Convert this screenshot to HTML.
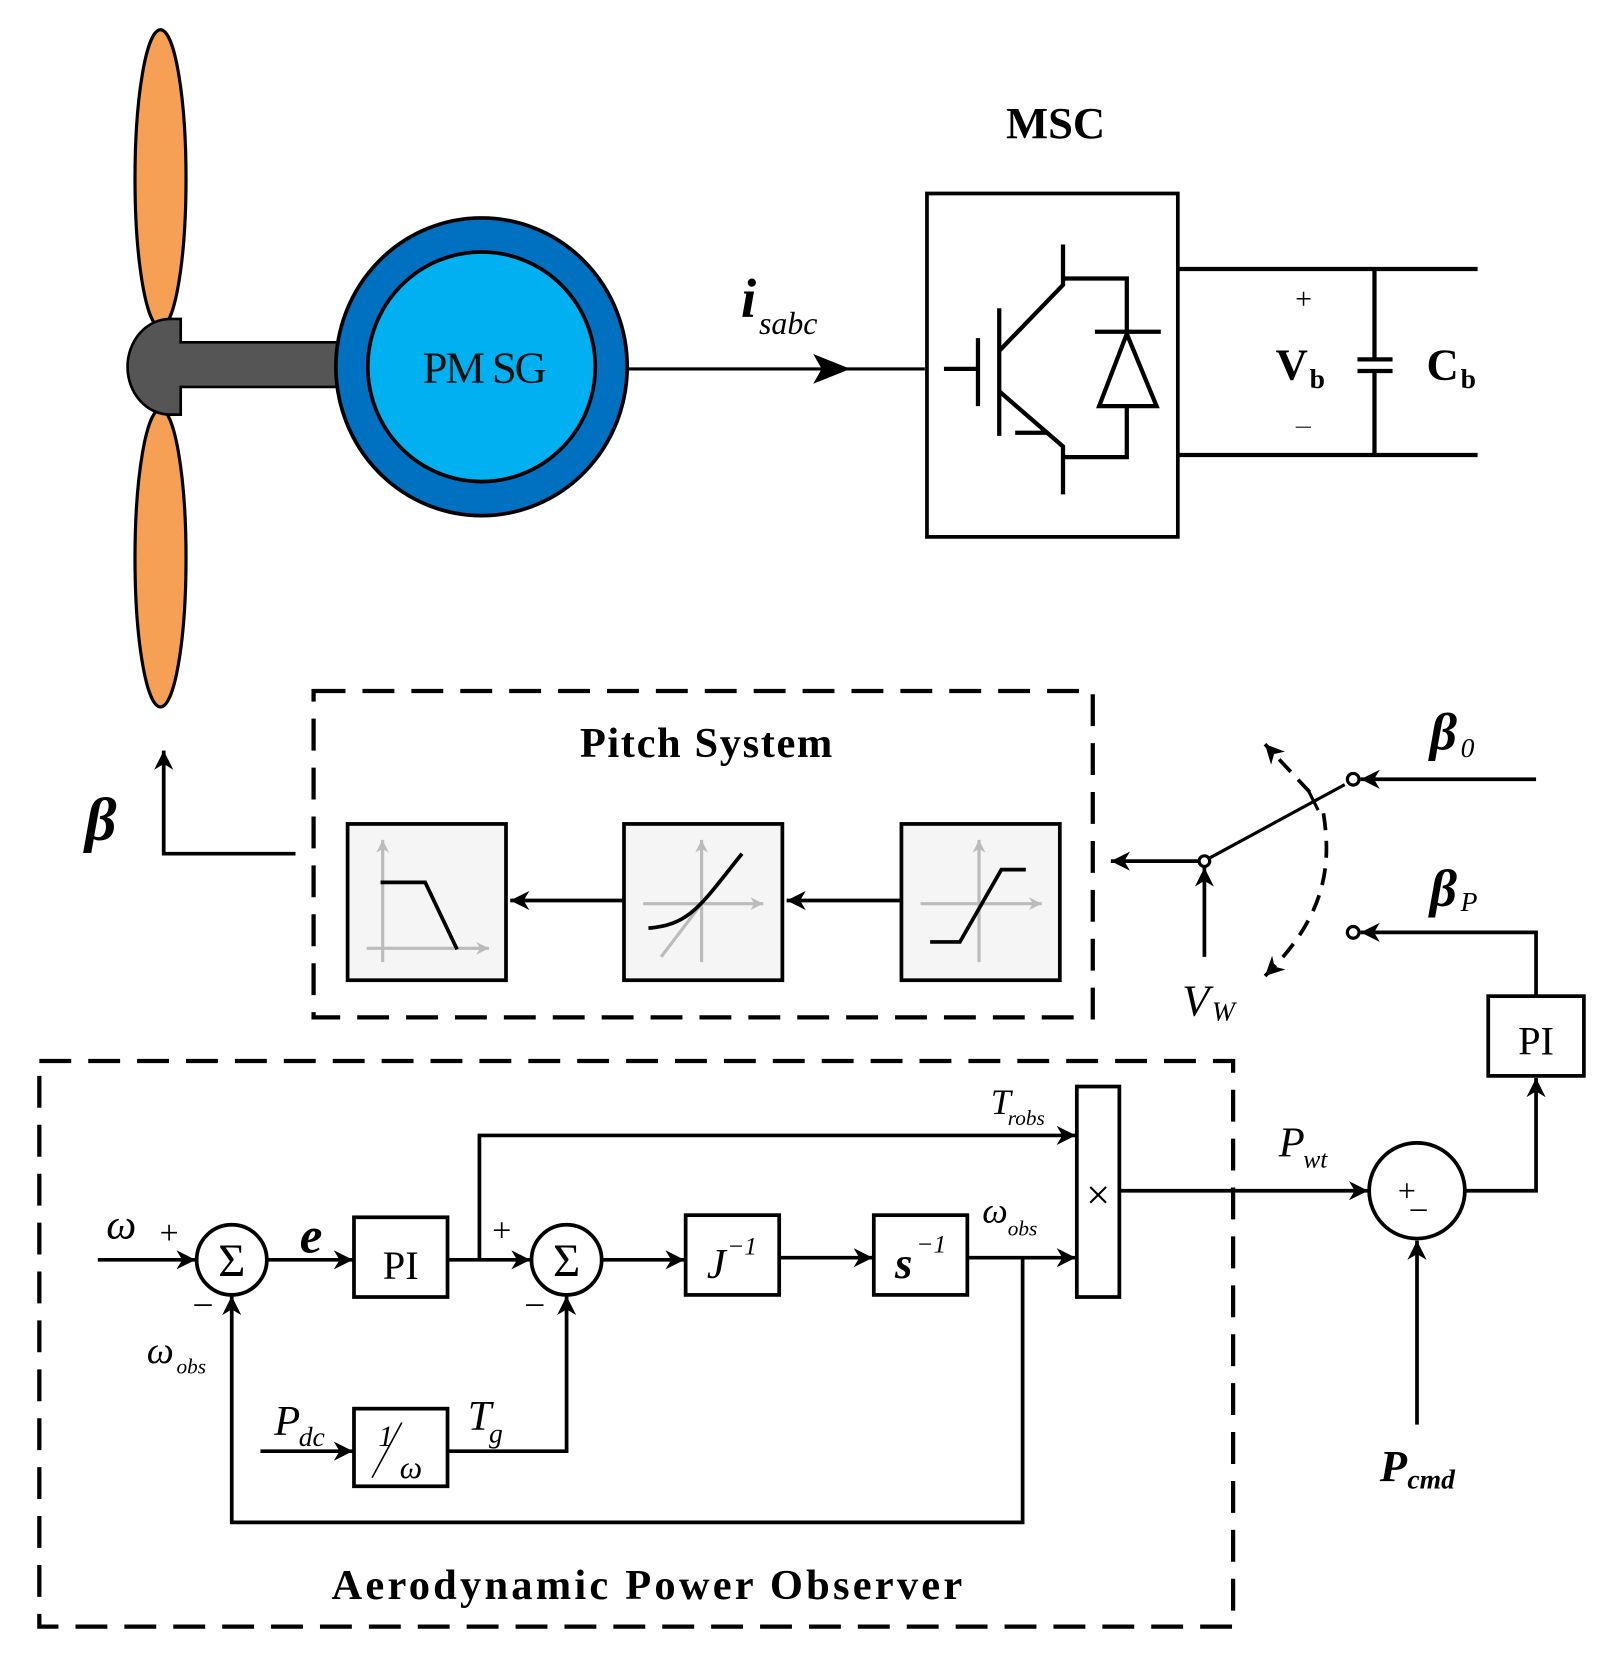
<!DOCTYPE html>
<html><head><meta charset="utf-8"><style>html,body{margin:0;padding:0;background:#fff}svg{display:block}</style></head>
<body>
<svg width="1611" height="1667" viewBox="0 0 1515.5 1568" preserveAspectRatio="none" xmlns="http://www.w3.org/2000/svg" font-family="Liberation Serif, serif">
<defs>
<marker id="a" viewBox="0 0 10 10" refX="10" refY="5" markerWidth="22" markerHeight="18" markerUnits="userSpaceOnUse" orient="auto"><path d="M0,0 L10,5 L0,10 L3,5 z" fill="#000"/></marker>
<marker id="b" viewBox="0 0 10 10" refX="10" refY="5" markerWidth="14" markerHeight="12" markerUnits="userSpaceOnUse" orient="auto"><path d="M0,0 L10,5 L0,10 L3,5 z" fill="#bbb"/></marker>
</defs>
<g stroke="#000" stroke-width="4" fill="none">
<ellipse cx="151" cy="168" rx="24" ry="140" fill="#F5A055" stroke-width="3"/>
<ellipse cx="151" cy="525" rx="24" ry="140" fill="#F5A055" stroke-width="3"/>
<path d="M170,300 L170,322 L340,322 L340,364 L170,364 L170,390 L160,390 A40,45 0 0 1 160,300 Z" fill="#555" stroke-width="2.5"/>
<ellipse cx="453" cy="345" rx="137" ry="140" fill="#0070C0" stroke-width="3.5"/>
<ellipse cx="453" cy="345" rx="107" ry="108" fill="#00B0F0" stroke-width="3.5"/>
<line x1="590" y1="347" x2="870" y2="347" stroke-width="3"/>
<path d="M765,333 L800,347 L765,361 L773,347 Z" fill="#000" stroke="none"/>
<rect x="872" y="182" width="236" height="323" stroke-width="3.5"/>
<line x1="888" y1="347" x2="920" y2="347"/>
<line x1="920" y1="318" x2="920" y2="382"/>
<line x1="940" y1="290" x2="940" y2="410"/>
<polyline points="940,330 1000,268 1000,230"/>
<polyline points="1000,262 1060,262 1060,312"/>
<polyline points="940,368 1000,420 1000,465"/>
<line x1="955" y1="407" x2="985" y2="407"/>
<polyline points="1000,430 1060,430 1060,382"/>
<line x1="1030" y1="312" x2="1092" y2="312"/>
<path d="M1060,314 L1088,382 L1034,382 Z"/>
<line x1="1108" y1="253" x2="1390" y2="253"/>
<line x1="1108" y1="428" x2="1390" y2="428"/>
<polyline points="1293,253 1293,338"/>
<polyline points="1293,349 1293,428"/>
<line x1="1277" y1="338" x2="1310" y2="338"/>
<line x1="1277" y1="349" x2="1310" y2="349"/>
<rect x="295" y="650" width="733" height="307" stroke-dasharray="30,16"/>
<rect x="327" y="775" width="149" height="147" fill="#f5f5f5" stroke-width="3.5"/>
<rect x="587" y="775" width="149" height="147" fill="#f5f5f5" stroke-width="3.5"/>
<rect x="848" y="775" width="149" height="147" fill="#f5f5f5" stroke-width="3.5"/>
<g stroke="#bbb" stroke-width="3">
<line x1="360" y1="905" x2="360" y2="790" marker-end="url(#b)"/><line x1="345" y1="892" x2="460" y2="892" marker-end="url(#b)"/>
<line x1="660" y1="905" x2="660" y2="790" marker-end="url(#b)"/><line x1="605" y1="850" x2="718" y2="850" marker-end="url(#b)"/>
<line x1="622" y1="900" x2="660" y2="850"/>
<line x1="921" y1="905" x2="921" y2="790" marker-end="url(#b)"/><line x1="866" y1="850" x2="980" y2="850" marker-end="url(#b)"/>
</g>
<polyline points="358,830 400,830 430,893" stroke-width="3.5"/>
<path d="M610,873 C650,870 660,850 698,803" stroke-width="3.5"/>
<polyline points="875,886 903,886 942,818 965,818" stroke-width="3.5"/>
<line x1="587" y1="847" x2="480" y2="847" marker-end="url(#a)" stroke-width="3.5"/>
<line x1="848" y1="847" x2="740" y2="847" marker-end="url(#a)" stroke-width="3.5"/>
<polyline points="278,803 154,803 154,706" stroke-width="3.5" marker-end="url(#a)"/>
<line x1="1128" y1="810" x2="1045" y2="810" marker-end="url(#a)" stroke-width="3.5"/>
<line x1="1133" y1="900" x2="1133" y2="816" marker-end="url(#a)" stroke-width="3.5"/>
<circle cx="1133" cy="810" r="5" fill="#fff" stroke-width="3"/>
<line x1="1138" y1="807" x2="1265" y2="738" stroke-width="3"/>
<line x1="1230" y1="742" x2="1240" y2="762" stroke-width="3"/>
<circle cx="1273" cy="733" r="5.5" fill="#fff" stroke-width="3"/>
<circle cx="1273" cy="877" r="5.5" fill="#fff" stroke-width="3"/>
<line x1="1445" y1="733" x2="1280" y2="733" marker-end="url(#a)" stroke-width="3.5"/>
<polyline points="1445,937 1445,877 1280,877" marker-end="url(#a)" stroke-width="3.5"/>
<path d="M1232,745 L1190,700" stroke-width="3.5" stroke-dasharray="16,10" marker-end="url(#a)"/>
<path d="M1245,765 C1252,810 1250,860 1190,918" stroke-width="3.5" stroke-dasharray="16,10" marker-end="url(#a)"/>
<rect x="1400" y="937" width="90" height="75" stroke-width="3.5"/>
<polyline points="1378,1120 1445,1120 1445,1014" marker-end="url(#a)" stroke-width="3.5"/>
<circle cx="1333" cy="1120" r="45" stroke-width="3.5"/>
<line x1="1333" y1="1340" x2="1333" y2="1167" marker-end="url(#a)" stroke-width="3.5"/>
<line x1="1053" y1="1120" x2="1287" y2="1120" marker-end="url(#a)" stroke-width="3.5"/>
<rect x="37" y="998" width="1123" height="532" stroke-dasharray="30,16"/>
<rect x="1013" y="1022" width="40" height="198" stroke-width="3.5"/>
<circle cx="218" cy="1185" r="33" stroke-width="3.5"/>
<circle cx="533" cy="1185" r="33" stroke-width="3.5"/>
<rect x="333" y="1145" width="88" height="75" stroke-width="3.5"/>
<rect x="645" y="1143" width="88" height="75" stroke-width="3.5"/>
<rect x="822" y="1143" width="88" height="75" stroke-width="3.5"/>
<rect x="333" y="1325" width="88" height="73" stroke-width="3.5"/>
<line x1="92" y1="1185" x2="184" y2="1185" marker-end="url(#a)" stroke-width="3.5"/>
<line x1="251" y1="1185" x2="332" y2="1185" marker-end="url(#a)" stroke-width="3.5"/>
<line x1="421" y1="1185" x2="499" y2="1185" marker-end="url(#a)" stroke-width="3.5"/>
<polyline points="451,1185 451,1068 1012,1068" marker-end="url(#a)" stroke-width="3.5"/>
<line x1="566" y1="1185" x2="644" y2="1185" marker-end="url(#a)" stroke-width="3.5"/>
<line x1="733" y1="1183" x2="821" y2="1183" marker-end="url(#a)" stroke-width="3.5"/>
<line x1="910" y1="1183" x2="1012" y2="1183" marker-end="url(#a)" stroke-width="3.5"/>
<polyline points="962,1183 962,1432 218,1432 218,1219" marker-end="url(#a)" stroke-width="3.5"/>
<line x1="245" y1="1365" x2="332" y2="1365" marker-end="url(#a)" stroke-width="3.5"/>
<polyline points="421,1365 533,1365 533,1219" marker-end="url(#a)" stroke-width="3.5"/>
<line x1="350" y1="1390" x2="378" y2="1338" stroke-width="1.5"/>
</g>
<g fill="#000">
<text x="455" y="360" font-size="42" text-anchor="middle" fill="#111" letter-spacing="-2">PM SG</text>
<text x="697" y="298" font-size="52" font-weight="bold" font-style="italic">i</text>
<text x="714" y="314" font-size="30" font-style="italic">sabc</text>
<text x="993" y="130" font-size="42" font-weight="bold" text-anchor="middle">MSC</text>
<text x="1226" y="290" font-size="28" font-style="italic" text-anchor="middle">+</text>
<text x="1200" y="357" font-size="42" font-weight="bold">V</text><text x="1232" y="365" font-size="26" font-weight="bold">b</text>
<text x="1226" y="408" font-size="28" text-anchor="middle" fill="#444">–</text>
<text x="1342" y="357" font-size="42" font-weight="bold">C</text><text x="1374" y="365" font-size="26" font-weight="bold">b</text>
<text x="665" y="712" font-size="40" font-weight="bold" text-anchor="middle" letter-spacing="1.5">Pitch System</text>
<text x="80" y="790" font-size="58" font-weight="bold" font-style="italic">β</text>
<text x="1345" y="705" font-size="50" font-weight="bold" font-style="italic">β</text><text x="1374" y="712" font-size="26" font-style="italic">0</text>
<text x="1345" y="852" font-size="50" font-weight="bold" font-style="italic">β</text><text x="1374" y="857" font-size="26" font-style="italic">P</text>
<text x="1112" y="955" font-size="42" font-style="italic">V</text><text x="1140" y="960" font-size="26" font-style="italic">W</text>
<text x="1445" y="992" font-size="38" text-anchor="middle">PI</text>
<text x="1315" y="1130" font-size="30">+</text>
<text x="1327" y="1145" font-size="30">–</text>
<text x="1203" y="1088" font-size="40" font-style="italic">P</text><text x="1226" y="1098" font-size="24" font-style="italic">wt</text>
<text x="1298" y="1393" font-size="42" font-style="italic" font-weight="bold">P</text><text x="1324" y="1400" font-size="26" font-style="italic" font-weight="bold">cmd</text>
<text x="1033" y="1137" font-size="40" text-anchor="middle">×</text>
<text x="932" y="1048" font-size="34" font-style="italic">T</text><text x="948" y="1058" font-size="20" font-style="italic">robs</text>
<text x="924" y="1150" font-size="34" font-style="italic">ω</text><text x="948" y="1162" font-size="20" font-style="italic">obs</text>
<text x="100" y="1165" font-size="40" font-style="italic">ω</text>
<text x="150" y="1170" font-size="32">+</text>
<text x="183" y="1235" font-size="32">–</text>
<text x="218" y="1200" font-size="44" text-anchor="middle">Σ</text>
<text x="533" y="1200" font-size="44" text-anchor="middle">Σ</text>
<text x="282" y="1178" font-size="48" font-style="italic" font-weight="bold">e</text>
<text x="377" y="1203" font-size="38" text-anchor="middle">PI</text>
<text x="463" y="1168" font-size="32">+</text>
<text x="495" y="1235" font-size="32">–</text>
<text x="665" y="1202" font-size="40" font-style="italic">J</text><text x="684" y="1180" font-size="24" font-style="italic">−1</text>
<text x="842" y="1202" font-size="42" font-style="italic" font-weight="bold">s</text><text x="862" y="1178" font-size="24" font-style="italic">−1</text>
<text x="138" y="1282" font-size="36" font-style="italic">ω</text><text x="166" y="1292" font-size="20" font-style="italic">obs</text>
<text x="258" y="1350" font-size="40" font-style="italic">P</text><text x="281" y="1360" font-size="26" font-style="italic">dc</text>
<text x="356" y="1360" font-size="28" font-style="italic">1</text>
<text x="376" y="1390" font-size="30" font-style="italic">ω</text>
<text x="440" y="1345" font-size="40" font-style="italic">T</text><text x="460" y="1357" font-size="26" font-style="italic">g</text>
<text x="610" y="1504" font-size="40" font-weight="bold" text-anchor="middle" letter-spacing="3">Aerodynamic Power Observer</text>
</g>
</svg>
</body></html>
